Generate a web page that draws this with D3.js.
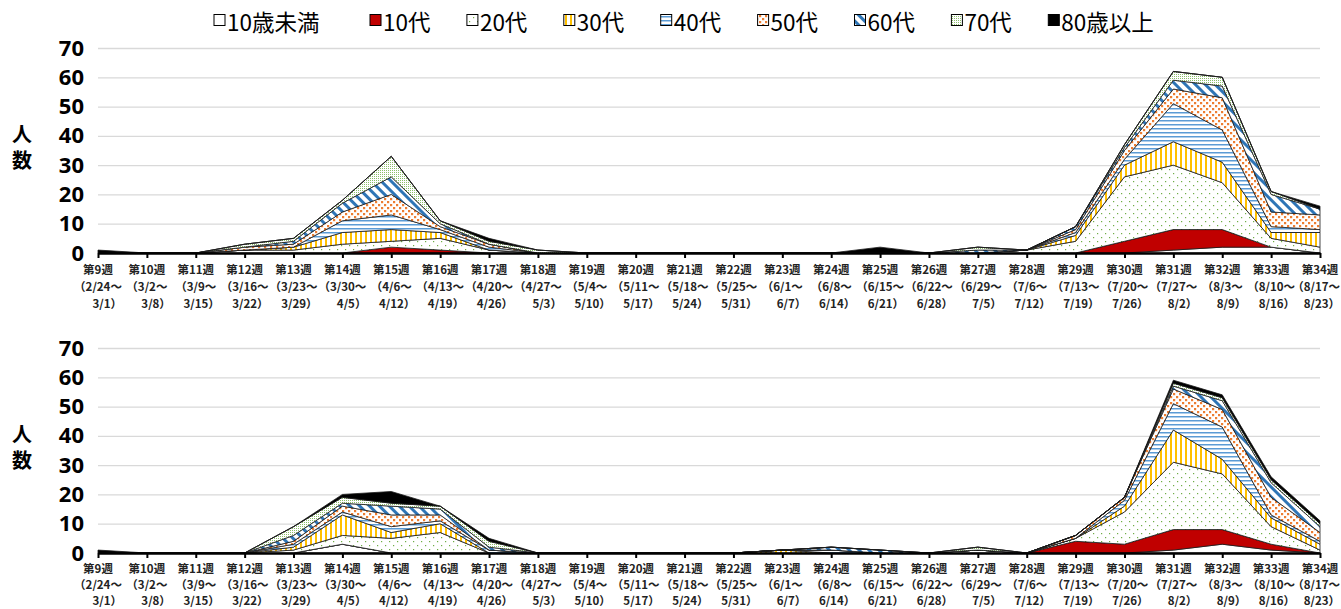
<!DOCTYPE html>
<html>
<head>
<meta charset="utf-8">
<script src="https://cdn.jsdelivr.net/npm/d3@7"></script>
<style>
  html, body { margin: 0; padding: 0; background: #fff; }
  svg { display: block; font-family: "Noto Sans CJK JP", "Noto Sans", sans-serif; }
</style>
</head>
<body>
<div id="chart"></div>
<script>
// 週ラベル（第9週〜第34週）
const weeks = ["第9週","第10週","第11週","第12週","第13週","第14週","第15週","第16週","第17週",
  "第18週","第19週","第20週","第21週","第22週","第23週","第24週","第25週","第26週","第27週",
  "第28週","第29週","第30週","第31週","第32週","第33週","第34週"];
const rangeStart = ["2/24","3/2","3/9","3/16","3/23","3/30","4/6","4/13","4/20","4/27","5/4","5/11",
  "5/18","5/25","6/1","6/8","6/15","6/22","6/29","7/6","7/13","7/20","7/27","8/3","8/10","8/17"];
const rangeEnd = ["3/1","3/8","3/15","3/22","3/29","4/5","4/12","4/19","4/26","5/3","5/10","5/17",
  "5/24","5/31","6/7","6/14","6/21","6/28","7/5","7/12","7/19","7/26","8/2","8/9","8/16","8/23"];

const ageGroups = ["10歳未満","10代","20代","30代","40代","50代","60代","70代","80歳以上"];
const yTicks = [0, 10, 20, 30, 40, 50, 60, 70];

// 上段グラフ
const upperU10 = [0,0,0,0,0,0,0,0,0,0,0,0,0,0,0,0,0,0,0,0,0,0,1,2,2,0];
const upper10s = [0,0,0,0,0,0,2,1,0,0,0,0,0,0,0,0,0,0,0,0,0,4,7,6,0,0];
const upper20s = [0,0,0,1,1,3,2,4,1,0,0,0,0,0,0,0,0,0,0,1,4,22,22,16,3,2];
const upper30s = [0,0,0,0,1,4,4,2,0,0,0,0,0,0,0,0,0,0,0,0,2,4,8,7,2,5];
const upper40s = [0,0,0,0,0,4,5,1,1,0,0,0,0,0,0,0,0,0,0,0,1,2,13,11,2,1];
const upper50s = [0,0,0,1,1,3,7,1,1,0,0,0,0,0,0,0,0,0,0,0,1,3,5,11,5,5];
const upper60s = [0,0,0,0,1,3,6,1,0,0,0,0,0,0,0,0,0,0,1,0,1,1,3,4,6,2];
const upper70s = [0,0,0,1,1,1,7,1,1,1,0,0,0,0,0,0,0,0,1,0,0,1,3,3,1,0];
const upper80p = [1,0,0,0,0,0,0,0,1,0,0,0,0,0,0,0,2,0,0,0,0,0,0,0,0,1];

// 下段グラフ
const lowerU10 = [0,0,0,0,0,3,0,0,0,0,0,0,0,0,0,0,0,0,0,0,0,0,1,3,1,0];
const lower10s = [0,0,0,0,0,0,0,0,0,0,0,0,0,0,0,0,0,0,0,0,4,3,7,5,2,0];
const lower20s = [0,0,0,0,1,3,5,7,0,0,0,0,0,0,0,0,0,0,1,0,1,11,23,19,6,1];
const lower30s = [0,0,0,0,1,7,2,3,0,0,0,0,0,0,1,0,0,0,0,0,0,2,11,5,3,2];
const lower40s = [0,0,0,0,1,1,2,1,1,0,0,0,0,0,0,1,0,0,0,0,0,2,9,11,1,1];
const lower50s = [0,0,0,0,1,2,4,2,0,0,0,0,0,0,0,0,0,0,0,0,1,1,5,6,6,3];
const lower60s = [0,0,0,0,2,1,3,2,1,0,0,0,0,0,0,1,1,0,0,0,0,0,1,3,5,2];
const lower70s = [0,0,0,0,3,2,1,1,2,0,0,0,0,0,0,0,0,0,1,0,0,0,1,1,1,1];
const lower80p = [1,0,0,0,0,1,4,0,1,0,0,0,0,0,0,0,0,0,0,0,0,0,1,1,1,1];

const upperSeries = [upperU10, upper10s, upper20s, upper30s, upper40s, upper50s, upper60s, upper70s, upper80p];
const lowerSeries = [lowerU10, lower10s, lower20s, lower30s, lower40s, lower50s, lower60s, lower70s, lower80p];

const width = 1341, height = 609;
const svg = d3.select("#chart").append("svg")
    .attr("width", width)
    .attr("height", height);

// fill patterns (Excel style)
const defs = svg.append("defs");
function makePattern(id, w, h, draw, transform) {
  const p = defs.append("pattern")
      .attr("id", id)
      .attr("patternUnits", "userSpaceOnUse")
      .attr("width", w)
      .attr("height", h);
  if (transform) p.attr("patternTransform", transform);
  p.append("rect").attr("width", w).attr("height", h).attr("fill", "#fff");
  draw(p);
}
makePattern("p20", 8, 8, p => {
  p.append("rect").attr("x", 1).attr("y", 1).attr("width", 1.2).attr("height", 1.2).attr("fill", "#70AD47");
  p.append("rect").attr("x", 5).attr("y", 5).attr("width", 1.2).attr("height", 1.2).attr("fill", "#70AD47");
});
makePattern("p30", 5, 4, p => {
  p.append("rect").attr("x", 0).attr("width", 2).attr("height", 4).attr("fill", "#FFC000");
});
makePattern("p40", 4, 4, p => {
  p.append("rect").attr("y", 0).attr("width", 4).attr("height", 1.5).attr("fill", "#5B9BD5");
});
makePattern("p50", 6, 6, p => {
  p.append("rect").attr("x", 0).attr("y", 0).attr("width", 2.2).attr("height", 2.2).attr("fill", "#ED7D31");
  p.append("rect").attr("x", 3).attr("y", 3).attr("width", 2.2).attr("height", 2.2).attr("fill", "#ED7D31");
});
makePattern("p60", 7, 7, p => {
  p.append("rect").attr("x", 0).attr("width", 3).attr("height", 7).attr("fill", "#2E75B6");
}, "rotate(-45)");
makePattern("p70", 2, 2, p => {
  p.append("rect").attr("width", 1).attr("height", 1).attr("fill", "#8CBF6A");
});

const fills = ["#ffffff", "#C00000", "url(#p20)", "url(#p30)", "url(#p40)",
  "url(#p50)", "url(#p60)", "url(#p70)", "#000000"];

const x = d3.scalePoint()
    .domain(weeks)
    .range([98, 1320]);

function drawPanel(series, top, bottom, lineY) {
  const y = d3.scaleLinear().domain([0, 70]).range([bottom, top]);
  const g = svg.append("g");

  // gridlines
  g.append("g")
      .attr("transform", `translate(${x.range()[0]},0)`)
      .call(d3.axisLeft(y).tickValues(yTicks.slice(1)).tickSize(-(x.range()[1] - x.range()[0])).tickFormat(""))
      .call(a => a.select(".domain").remove())
      .call(a => a.selectAll("line").attr("stroke", "#D9D9D9").attr("stroke-width", 1.3));

  // y tick labels
  g.append("g")
      .attr("transform", `translate(84,0)`)
      .call(d3.axisLeft(y).tickValues(yTicks).tickSize(0).tickPadding(0))
      .call(a => a.select(".domain").remove())
      .call(a => a.selectAll("text")
          .attr("font-size", 22)
          .attr("font-weight", "bold")
          .attr("fill", "#000")
          .attr("font-family", "'Noto Sans', sans-serif"));

  // axis title (vertical)
  const mid = (top + bottom) / 2;
  g.append("text")
      .attr("x", 22).attr("y", mid)
      .attr("text-anchor", "middle")
      .attr("font-size", 20).attr("font-weight", "bold")
      .style("writing-mode", "vertical-rl")
      .style("letter-spacing", "6px")
      .text("人数");

  // stacked areas
  const table = weeks.map((w, i) => {
    const row = { week: w };
    ageGroups.forEach((k, j) => { row[k] = series[j][i]; });
    return row;
  });
  const stacked = d3.stack().keys(ageGroups)(table);
  const area = d3.area()
      .x(d => x(d.data.week))
      .y0(d => y(d[0]))
      .y1(d => y(d[1]));
  g.append("g")
      .selectAll("path")
      .data(stacked)
      .join("path")
      .attr("d", area)
      .attr("fill", (d, i) => fills[i])
      .attr("stroke", "#1a1a1a")
      .attr("stroke-width", 0.8)
      .attr("stroke-linejoin", "round");

  // category axis
  const xa = g.append("g")
      .attr("transform", `translate(0,${bottom})`)
      .call(d3.axisBottom(x).tickSize(5).tickSizeOuter(0).tickFormat(""));
  xa.select(".domain").attr("stroke", "#000").attr("stroke-width", 2.6);
  xa.selectAll(".tick line").attr("stroke", "#000").attr("stroke-width", 2);

  const labels = g.append("g")
      .attr("font-size", 11.5)
      .attr("font-weight", "bold")
      .attr("fill", "#222");
  weeks.forEach((w, i) => {
    const cx = x(w);
    labels.append("text").attr("x", cx).attr("y", bottom + lineY[0]).attr("text-anchor", "middle").text(w);
    const l2 = labels.append("text").attr("x", cx).attr("y", bottom + lineY[1])
        .attr("text-anchor", "middle").text(`（${rangeStart[i]}～`);
    const w2 = l2.node().getComputedTextLength();
    if (cx + w2 / 2 > width - 1) l2.attr("x", width - 1 - w2 / 2);
    labels.append("text").attr("x", Math.min(cx + 24, width - 1)).attr("y", bottom + lineY[2])
        .attr("text-anchor", "end").text(`${rangeEnd[i]}）`);
  });
}

drawPanel(upperSeries, 48, 253, [21, 38, 55]);
drawPanel(lowerSeries, 348, 553, [20, 36, 52]);

// legend
const legend = svg.append("g").attr("font-size", 22.5);
ageGroups.forEach((k, i) => {
  const lx = i === 0 ? 214 : 370 + (i - 1) * 96.9;
  legend.append("rect")
      .attr("x", lx).attr("y", 14.5)
      .attr("width", 11).attr("height", 11)
      .attr("fill", fills[i])
      .attr("stroke", "#000").attr("stroke-width", 1);
  legend.append("text")
      .attr("x", lx + 13).attr("y", 21)
      .attr("dominant-baseline", "central")
      .attr("fill", "#000")
      .text(k);
});
</script>
</body>
</html>
